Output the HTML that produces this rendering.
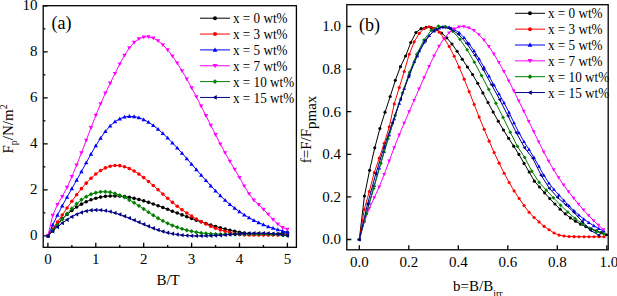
<!DOCTYPE html>
<html><head><meta charset="utf-8"><style>html,body{margin:0;padding:0;background:#fff;width:617px;height:296px;overflow:hidden}svg{display:block}</style></head>
<body><svg width="617" height="296" viewBox="0 0 617 296">
<rect width="617" height="296" fill="#fff"/>
<rect x="43.2" y="5.7" width="253.2" height="241.60000000000002" fill="none" stroke="#000" stroke-width="1.3"/>
<rect x="346.8" y="4.7" width="261.40000000000003" height="245.10000000000002" fill="none" stroke="#000" stroke-width="1.3"/>
<text x="47.90" y="264" text-anchor="middle" font-size="15" font-family="Liberation Serif" fill="#000">0</text>
<text x="95.80" y="264" text-anchor="middle" font-size="15" font-family="Liberation Serif" fill="#000">1</text>
<text x="143.70" y="264" text-anchor="middle" font-size="15" font-family="Liberation Serif" fill="#000">2</text>
<text x="191.60" y="264" text-anchor="middle" font-size="15" font-family="Liberation Serif" fill="#000">3</text>
<text x="239.50" y="264" text-anchor="middle" font-size="15" font-family="Liberation Serif" fill="#000">4</text>
<text x="287.40" y="264" text-anchor="middle" font-size="15" font-family="Liberation Serif" fill="#000">5</text>
<text x="37.6" y="239.90" text-anchor="end" font-size="15" font-family="Liberation Serif" fill="#000">0</text>
<text x="37.6" y="193.90" text-anchor="end" font-size="15" font-family="Liberation Serif" fill="#000">2</text>
<text x="37.6" y="147.90" text-anchor="end" font-size="15" font-family="Liberation Serif" fill="#000">4</text>
<text x="37.6" y="101.90" text-anchor="end" font-size="15" font-family="Liberation Serif" fill="#000">6</text>
<text x="37.6" y="55.90" text-anchor="end" font-size="15" font-family="Liberation Serif" fill="#000">8</text>
<text x="37.6" y="9.90" text-anchor="end" font-size="15" font-family="Liberation Serif" fill="#000">10</text>
<text x="359.30" y="266.7" text-anchor="middle" font-size="15" font-family="Liberation Serif" fill="#000">0.0</text>
<text x="341" y="244.30" text-anchor="end" font-size="15" font-family="Liberation Serif" fill="#000">0.0</text>
<text x="408.80" y="266.7" text-anchor="middle" font-size="15" font-family="Liberation Serif" fill="#000">0.2</text>
<text x="341" y="201.70" text-anchor="end" font-size="15" font-family="Liberation Serif" fill="#000">0.2</text>
<text x="458.30" y="266.7" text-anchor="middle" font-size="15" font-family="Liberation Serif" fill="#000">0.4</text>
<text x="341" y="159.10" text-anchor="end" font-size="15" font-family="Liberation Serif" fill="#000">0.4</text>
<text x="507.80" y="266.7" text-anchor="middle" font-size="15" font-family="Liberation Serif" fill="#000">0.6</text>
<text x="341" y="116.50" text-anchor="end" font-size="15" font-family="Liberation Serif" fill="#000">0.6</text>
<text x="557.30" y="266.7" text-anchor="middle" font-size="15" font-family="Liberation Serif" fill="#000">0.8</text>
<text x="341" y="73.90" text-anchor="end" font-size="15" font-family="Liberation Serif" fill="#000">0.8</text>
<text x="608.80" y="266.7" text-anchor="middle" font-size="15" font-family="Liberation Serif" fill="#000">1.0</text>
<text x="341" y="31.30" text-anchor="end" font-size="15" font-family="Liberation Serif" fill="#000">1.0</text>
<path d="M47.90,247.3v-4.5 M95.80,247.3v-4.5 M143.70,247.3v-4.5 M191.60,247.3v-4.5 M239.50,247.3v-4.5 M287.40,247.3v-4.5 M71.85,247.3v-2.2 M119.75,247.3v-2.2 M167.65,247.3v-2.2 M215.55,247.3v-2.2 M263.45,247.3v-2.2 M43.2,235.90h4.5 M43.2,189.90h4.5 M43.2,143.90h4.5 M43.2,97.90h4.5 M43.2,51.90h4.5 M43.2,5.90h4.5 M43.2,212.90h2.2 M43.2,166.90h2.2 M43.2,120.90h2.2 M43.2,74.90h2.2 M43.2,28.90h2.2 M359.30,249.8v-4.5 M346.8,239.50h4.5 M408.80,249.8v-4.5 M346.8,196.90h4.5 M458.30,249.8v-4.5 M346.8,154.30h4.5 M507.80,249.8v-4.5 M346.8,111.70h4.5 M557.30,249.8v-4.5 M346.8,69.10h4.5 M606.80,249.8v-4.5 M346.8,26.50h4.5" stroke="#000" stroke-width="1.3" fill="none"/>
<text x="51.5" y="28.6" font-size="18" font-family="Liberation Serif" fill="#000">(a)</text>
<text x="359" y="31.1" font-size="18" font-family="Liberation Serif" fill="#000">(b)</text>
<text x="156.4" y="285" font-size="15" font-family="Liberation Serif" fill="#000">B/T</text>
<text x="453" y="291.4" font-size="15" font-family="Liberation Serif" fill="#000">b=B/B<tspan font-size="10" dy="6">irr</tspan></text>
<text transform="translate(13,153.5) rotate(-90)" font-size="15" font-family="Liberation Serif" fill="#000">F<tspan font-size="10" dy="4">p</tspan><tspan dy="-4">/N/m</tspan><tspan font-size="10" dy="-6">2</tspan></text>
<text transform="translate(311.2,163.3) rotate(-90)" font-size="15" font-family="Liberation Serif" fill="#000">f=F/F<tspan font-size="15" dy="5">pmax</tspan></text>
<path d="M200,18.20h30" stroke="#000000" stroke-width="1"/>
<circle cx="215.00" cy="18.20" r="1.98" fill="#000000"/>
<text transform="matrix(0.94,0,0,1,13.980,0)" x="233" y="23.30" font-size="14" font-family="Liberation Serif" fill="#000">x = 0 wt%</text>
<path d="M200,34.05h30" stroke="#ff0000" stroke-width="1"/>
<circle cx="215.00" cy="34.05" r="1.98" fill="#ff0000"/>
<text transform="matrix(0.94,0,0,1,13.980,0)" x="233" y="39.15" font-size="14" font-family="Liberation Serif" fill="#000">x = 3 wt%</text>
<path d="M200,49.90h30" stroke="#0000ff" stroke-width="1"/>
<polygon points="215.00,47.48 212.58,51.66 217.42,51.66" fill="#0000ff"/>
<text transform="matrix(0.94,0,0,1,13.980,0)" x="233" y="55.00" font-size="14" font-family="Liberation Serif" fill="#000">x = 5 wt%</text>
<path d="M200,65.75h30" stroke="#ff00ff" stroke-width="1"/>
<polygon points="215.00,68.17 212.58,63.99 217.42,63.99" fill="#ff00ff"/>
<text transform="matrix(0.94,0,0,1,13.980,0)" x="233" y="70.85" font-size="14" font-family="Liberation Serif" fill="#000">x = 7 wt%</text>
<path d="M200,81.60h30" stroke="#008000" stroke-width="1"/>
<polygon points="215.00,79.18 217.42,81.60 215.00,84.02 212.58,81.60" fill="#008000"/>
<text transform="matrix(0.94,0,0,1,13.980,0)" x="233" y="86.70" font-size="14" font-family="Liberation Serif" fill="#000">x = 10 wt%</text>
<path d="M200,97.45h30" stroke="#000080" stroke-width="1"/>
<polygon points="212.58,97.45 216.76,95.03 216.76,99.87" fill="#000080"/>
<text transform="matrix(0.94,0,0,1,13.980,0)" x="233" y="102.55" font-size="14" font-family="Liberation Serif" fill="#000">x = 15 wt%</text>
<path d="M515,13.30h30" stroke="#000000" stroke-width="1"/>
<circle cx="530.00" cy="13.30" r="1.98" fill="#000000"/>
<text transform="matrix(0.94,0,0,1,32.880,0)" x="548" y="18.40" font-size="14" font-family="Liberation Serif" fill="#000">x = 0 wt%</text>
<path d="M515,29.15h30" stroke="#ff0000" stroke-width="1"/>
<circle cx="530.00" cy="29.15" r="1.98" fill="#ff0000"/>
<text transform="matrix(0.94,0,0,1,32.880,0)" x="548" y="34.25" font-size="14" font-family="Liberation Serif" fill="#000">x = 3 wt%</text>
<path d="M515,45.00h30" stroke="#0000ff" stroke-width="1"/>
<polygon points="530.00,42.58 527.58,46.76 532.42,46.76" fill="#0000ff"/>
<text transform="matrix(0.94,0,0,1,32.880,0)" x="548" y="50.10" font-size="14" font-family="Liberation Serif" fill="#000">x = 5 wt%</text>
<path d="M515,60.85h30" stroke="#ff00ff" stroke-width="1"/>
<polygon points="530.00,63.27 527.58,59.09 532.42,59.09" fill="#ff00ff"/>
<text transform="matrix(0.94,0,0,1,32.880,0)" x="548" y="65.95" font-size="14" font-family="Liberation Serif" fill="#000">x = 7 wt%</text>
<path d="M515,76.70h30" stroke="#008000" stroke-width="1"/>
<polygon points="530.00,74.28 532.42,76.70 530.00,79.12 527.58,76.70" fill="#008000"/>
<text transform="matrix(0.94,0,0,1,32.880,0)" x="548" y="81.80" font-size="14" font-family="Liberation Serif" fill="#000">x = 10 wt%</text>
<path d="M515,92.55h30" stroke="#000080" stroke-width="1"/>
<polygon points="527.58,92.55 531.76,90.13 531.76,94.97" fill="#000080"/>
<text transform="matrix(0.94,0,0,1,32.880,0)" x="548" y="97.65" font-size="14" font-family="Liberation Serif" fill="#000">x = 15 wt%</text>
<path d="M47.90,235.90 L52.69,229.60 L57.48,223.93 L62.27,218.87 L67.06,214.38 L71.85,210.46 L76.64,207.06 L81.43,204.16 L86.22,201.75 L91.01,199.78 L95.80,198.25 L100.59,197.11 L105.38,196.36 L110.17,195.96 L114.96,195.88 L119.75,196.10 L124.54,196.60 L129.33,197.35 L134.12,198.33 L138.91,199.50 L143.70,200.85 L148.49,202.35 L153.28,203.97 L158.07,205.69 L162.86,207.48 L167.65,209.32 L172.44,211.19 L177.23,213.05 L182.02,214.89 L186.81,216.70 L191.60,218.47 L196.39,220.20 L201.18,221.87 L205.97,223.48 L210.76,225.01 L215.55,226.47 L220.34,227.83 L225.13,229.09 L229.92,230.25 L234.71,231.29 L239.50,232.21 L244.29,232.99 L249.08,233.63 L253.87,234.12 L258.66,234.45 L263.45,234.61 L268.24,234.59 L273.03,234.38 L277.82,233.99 L282.61,233.38 L287.40,232.57" stroke="#000000" stroke-width="1" fill="none"/>
<circle cx="47.90" cy="235.90" r="1.80" fill="#000000"/><circle cx="52.69" cy="229.60" r="1.80" fill="#000000"/><circle cx="57.48" cy="223.93" r="1.80" fill="#000000"/><circle cx="62.27" cy="218.87" r="1.80" fill="#000000"/><circle cx="67.06" cy="214.38" r="1.80" fill="#000000"/><circle cx="71.85" cy="210.46" r="1.80" fill="#000000"/><circle cx="76.64" cy="207.06" r="1.80" fill="#000000"/><circle cx="81.43" cy="204.16" r="1.80" fill="#000000"/><circle cx="86.22" cy="201.75" r="1.80" fill="#000000"/><circle cx="91.01" cy="199.78" r="1.80" fill="#000000"/><circle cx="95.80" cy="198.25" r="1.80" fill="#000000"/><circle cx="100.59" cy="197.11" r="1.80" fill="#000000"/><circle cx="105.38" cy="196.36" r="1.80" fill="#000000"/><circle cx="110.17" cy="195.96" r="1.80" fill="#000000"/><circle cx="114.96" cy="195.88" r="1.80" fill="#000000"/><circle cx="119.75" cy="196.10" r="1.80" fill="#000000"/><circle cx="124.54" cy="196.60" r="1.80" fill="#000000"/><circle cx="129.33" cy="197.35" r="1.80" fill="#000000"/><circle cx="134.12" cy="198.33" r="1.80" fill="#000000"/><circle cx="138.91" cy="199.50" r="1.80" fill="#000000"/><circle cx="143.70" cy="200.85" r="1.80" fill="#000000"/><circle cx="148.49" cy="202.35" r="1.80" fill="#000000"/><circle cx="153.28" cy="203.97" r="1.80" fill="#000000"/><circle cx="158.07" cy="205.69" r="1.80" fill="#000000"/><circle cx="162.86" cy="207.48" r="1.80" fill="#000000"/><circle cx="167.65" cy="209.32" r="1.80" fill="#000000"/><circle cx="172.44" cy="211.19" r="1.80" fill="#000000"/><circle cx="177.23" cy="213.05" r="1.80" fill="#000000"/><circle cx="182.02" cy="214.89" r="1.80" fill="#000000"/><circle cx="186.81" cy="216.70" r="1.80" fill="#000000"/><circle cx="191.60" cy="218.47" r="1.80" fill="#000000"/><circle cx="196.39" cy="220.20" r="1.80" fill="#000000"/><circle cx="201.18" cy="221.87" r="1.80" fill="#000000"/><circle cx="205.97" cy="223.48" r="1.80" fill="#000000"/><circle cx="210.76" cy="225.01" r="1.80" fill="#000000"/><circle cx="215.55" cy="226.47" r="1.80" fill="#000000"/><circle cx="220.34" cy="227.83" r="1.80" fill="#000000"/><circle cx="225.13" cy="229.09" r="1.80" fill="#000000"/><circle cx="229.92" cy="230.25" r="1.80" fill="#000000"/><circle cx="234.71" cy="231.29" r="1.80" fill="#000000"/><circle cx="239.50" cy="232.21" r="1.80" fill="#000000"/><circle cx="244.29" cy="232.99" r="1.80" fill="#000000"/><circle cx="249.08" cy="233.63" r="1.80" fill="#000000"/><circle cx="253.87" cy="234.12" r="1.80" fill="#000000"/><circle cx="258.66" cy="234.45" r="1.80" fill="#000000"/><circle cx="263.45" cy="234.61" r="1.80" fill="#000000"/><circle cx="268.24" cy="234.59" r="1.80" fill="#000000"/><circle cx="273.03" cy="234.38" r="1.80" fill="#000000"/><circle cx="277.82" cy="233.99" r="1.80" fill="#000000"/><circle cx="282.61" cy="233.38" r="1.80" fill="#000000"/><circle cx="287.40" cy="232.57" r="1.80" fill="#000000"/>
<path d="M47.90,235.90 L52.69,229.10 L57.48,222.09 L62.27,215.03 L67.06,208.02 L71.85,201.21 L76.64,194.71 L81.43,188.65 L86.22,183.13 L91.01,178.22 L95.80,174.00 L100.59,170.54 L105.38,167.91 L110.17,166.19 L114.96,165.45 L119.75,165.66 L124.54,166.74 L129.33,168.58 L134.12,171.07 L138.91,174.12 L143.70,177.62 L148.49,181.47 L153.28,185.56 L158.07,189.80 L162.86,194.09 L167.65,198.31 L172.44,202.36 L177.23,206.18 L182.02,209.74 L186.81,213.06 L191.60,216.14 L196.39,218.98 L201.18,221.58 L205.97,223.96 L210.76,226.35 L215.55,228.31 L220.34,229.92 L225.13,231.30 L229.92,232.45 L234.71,233.60 L239.50,234.52 L244.29,234.87 L249.08,234.95 L253.87,234.98 L258.66,234.98 L263.45,234.98 L268.24,234.98 L273.03,234.98 L277.82,234.98 L282.61,234.98 L287.40,234.98" stroke="#ff0000" stroke-width="1" fill="none"/>
<circle cx="47.90" cy="235.90" r="1.80" fill="#ff0000"/><circle cx="52.69" cy="229.10" r="1.80" fill="#ff0000"/><circle cx="57.48" cy="222.09" r="1.80" fill="#ff0000"/><circle cx="62.27" cy="215.03" r="1.80" fill="#ff0000"/><circle cx="67.06" cy="208.02" r="1.80" fill="#ff0000"/><circle cx="71.85" cy="201.21" r="1.80" fill="#ff0000"/><circle cx="76.64" cy="194.71" r="1.80" fill="#ff0000"/><circle cx="81.43" cy="188.65" r="1.80" fill="#ff0000"/><circle cx="86.22" cy="183.13" r="1.80" fill="#ff0000"/><circle cx="91.01" cy="178.22" r="1.80" fill="#ff0000"/><circle cx="95.80" cy="174.00" r="1.80" fill="#ff0000"/><circle cx="100.59" cy="170.54" r="1.80" fill="#ff0000"/><circle cx="105.38" cy="167.91" r="1.80" fill="#ff0000"/><circle cx="110.17" cy="166.19" r="1.80" fill="#ff0000"/><circle cx="114.96" cy="165.45" r="1.80" fill="#ff0000"/><circle cx="119.75" cy="165.66" r="1.80" fill="#ff0000"/><circle cx="124.54" cy="166.74" r="1.80" fill="#ff0000"/><circle cx="129.33" cy="168.58" r="1.80" fill="#ff0000"/><circle cx="134.12" cy="171.07" r="1.80" fill="#ff0000"/><circle cx="138.91" cy="174.12" r="1.80" fill="#ff0000"/><circle cx="143.70" cy="177.62" r="1.80" fill="#ff0000"/><circle cx="148.49" cy="181.47" r="1.80" fill="#ff0000"/><circle cx="153.28" cy="185.56" r="1.80" fill="#ff0000"/><circle cx="158.07" cy="189.80" r="1.80" fill="#ff0000"/><circle cx="162.86" cy="194.09" r="1.80" fill="#ff0000"/><circle cx="167.65" cy="198.31" r="1.80" fill="#ff0000"/><circle cx="172.44" cy="202.36" r="1.80" fill="#ff0000"/><circle cx="177.23" cy="206.18" r="1.80" fill="#ff0000"/><circle cx="182.02" cy="209.74" r="1.80" fill="#ff0000"/><circle cx="186.81" cy="213.06" r="1.80" fill="#ff0000"/><circle cx="191.60" cy="216.14" r="1.80" fill="#ff0000"/><circle cx="196.39" cy="218.98" r="1.80" fill="#ff0000"/><circle cx="201.18" cy="221.58" r="1.80" fill="#ff0000"/><circle cx="205.97" cy="223.96" r="1.80" fill="#ff0000"/><circle cx="210.76" cy="226.35" r="1.80" fill="#ff0000"/><circle cx="215.55" cy="228.31" r="1.80" fill="#ff0000"/><circle cx="220.34" cy="229.92" r="1.80" fill="#ff0000"/><circle cx="225.13" cy="231.30" r="1.80" fill="#ff0000"/><circle cx="229.92" cy="232.45" r="1.80" fill="#ff0000"/><circle cx="234.71" cy="233.60" r="1.80" fill="#ff0000"/><circle cx="239.50" cy="234.52" r="1.80" fill="#ff0000"/><circle cx="244.29" cy="234.87" r="1.80" fill="#ff0000"/><circle cx="249.08" cy="234.95" r="1.80" fill="#ff0000"/><circle cx="253.87" cy="234.98" r="1.80" fill="#ff0000"/><circle cx="258.66" cy="234.98" r="1.80" fill="#ff0000"/><circle cx="263.45" cy="234.98" r="1.80" fill="#ff0000"/><circle cx="268.24" cy="234.98" r="1.80" fill="#ff0000"/><circle cx="273.03" cy="234.98" r="1.80" fill="#ff0000"/><circle cx="277.82" cy="234.98" r="1.80" fill="#ff0000"/><circle cx="282.61" cy="234.98" r="1.80" fill="#ff0000"/><circle cx="287.40" cy="234.98" r="1.80" fill="#ff0000"/>
<path d="M47.90,235.90 L52.69,224.98 L57.48,215.03 L62.27,205.82 L67.06,197.10 L71.85,188.64 L76.64,180.21 L81.43,171.57 L86.22,162.77 L91.01,154.07 L95.80,145.74 L100.59,138.08 L105.38,131.37 L110.17,125.89 L114.96,121.72 L119.75,118.79 L124.54,117.01 L129.33,116.29 L134.12,116.54 L138.91,117.68 L143.70,119.60 L148.49,122.23 L153.28,125.47 L158.07,129.24 L162.86,133.45 L167.65,138.00 L172.44,142.85 L177.23,147.94 L182.02,153.22 L186.81,158.62 L191.60,164.11 L196.39,169.62 L201.18,175.11 L205.97,180.51 L210.76,185.78 L215.55,190.86 L220.34,195.69 L225.13,200.24 L229.92,204.43 L234.71,208.26 L239.50,211.75 L244.29,214.91 L249.08,217.77 L253.87,220.35 L258.66,222.66 L263.45,224.74 L268.24,226.59 L273.03,228.24 L277.82,229.72 L282.61,231.03 L287.40,232.21" stroke="#0000ff" stroke-width="1" fill="none"/>
<polygon points="47.90,233.70 45.70,237.50 50.10,237.50" fill="#0000ff"/><polygon points="52.69,222.78 50.49,226.58 54.89,226.58" fill="#0000ff"/><polygon points="57.48,212.83 55.28,216.63 59.68,216.63" fill="#0000ff"/><polygon points="62.27,203.62 60.07,207.42 64.47,207.42" fill="#0000ff"/><polygon points="67.06,194.90 64.86,198.70 69.26,198.70" fill="#0000ff"/><polygon points="71.85,186.44 69.65,190.24 74.05,190.24" fill="#0000ff"/><polygon points="76.64,178.01 74.44,181.81 78.84,181.81" fill="#0000ff"/><polygon points="81.43,169.37 79.23,173.17 83.63,173.17" fill="#0000ff"/><polygon points="86.22,160.57 84.02,164.37 88.42,164.37" fill="#0000ff"/><polygon points="91.01,151.87 88.81,155.67 93.21,155.67" fill="#0000ff"/><polygon points="95.80,143.54 93.60,147.34 98.00,147.34" fill="#0000ff"/><polygon points="100.59,135.88 98.39,139.68 102.79,139.68" fill="#0000ff"/><polygon points="105.38,129.17 103.18,132.97 107.58,132.97" fill="#0000ff"/><polygon points="110.17,123.69 107.97,127.49 112.37,127.49" fill="#0000ff"/><polygon points="114.96,119.52 112.76,123.32 117.16,123.32" fill="#0000ff"/><polygon points="119.75,116.59 117.55,120.39 121.95,120.39" fill="#0000ff"/><polygon points="124.54,114.81 122.34,118.61 126.74,118.61" fill="#0000ff"/><polygon points="129.33,114.09 127.13,117.89 131.53,117.89" fill="#0000ff"/><polygon points="134.12,114.34 131.92,118.14 136.32,118.14" fill="#0000ff"/><polygon points="138.91,115.48 136.71,119.28 141.11,119.28" fill="#0000ff"/><polygon points="143.70,117.40 141.50,121.20 145.90,121.20" fill="#0000ff"/><polygon points="148.49,120.03 146.29,123.83 150.69,123.83" fill="#0000ff"/><polygon points="153.28,123.27 151.08,127.07 155.48,127.07" fill="#0000ff"/><polygon points="158.07,127.04 155.87,130.84 160.27,130.84" fill="#0000ff"/><polygon points="162.86,131.25 160.66,135.05 165.06,135.05" fill="#0000ff"/><polygon points="167.65,135.80 165.45,139.60 169.85,139.60" fill="#0000ff"/><polygon points="172.44,140.65 170.24,144.45 174.64,144.45" fill="#0000ff"/><polygon points="177.23,145.74 175.03,149.54 179.43,149.54" fill="#0000ff"/><polygon points="182.02,151.02 179.82,154.82 184.22,154.82" fill="#0000ff"/><polygon points="186.81,156.42 184.61,160.22 189.01,160.22" fill="#0000ff"/><polygon points="191.60,161.91 189.40,165.71 193.80,165.71" fill="#0000ff"/><polygon points="196.39,167.42 194.19,171.22 198.59,171.22" fill="#0000ff"/><polygon points="201.18,172.91 198.98,176.71 203.38,176.71" fill="#0000ff"/><polygon points="205.97,178.31 203.77,182.11 208.17,182.11" fill="#0000ff"/><polygon points="210.76,183.58 208.56,187.38 212.96,187.38" fill="#0000ff"/><polygon points="215.55,188.66 213.35,192.46 217.75,192.46" fill="#0000ff"/><polygon points="220.34,193.49 218.14,197.29 222.54,197.29" fill="#0000ff"/><polygon points="225.13,198.04 222.93,201.84 227.33,201.84" fill="#0000ff"/><polygon points="229.92,202.23 227.72,206.03 232.12,206.03" fill="#0000ff"/><polygon points="234.71,206.06 232.51,209.86 236.91,209.86" fill="#0000ff"/><polygon points="239.50,209.55 237.30,213.35 241.70,213.35" fill="#0000ff"/><polygon points="244.29,212.71 242.09,216.51 246.49,216.51" fill="#0000ff"/><polygon points="249.08,215.57 246.88,219.37 251.28,219.37" fill="#0000ff"/><polygon points="253.87,218.15 251.67,221.95 256.07,221.95" fill="#0000ff"/><polygon points="258.66,220.46 256.46,224.26 260.86,224.26" fill="#0000ff"/><polygon points="263.45,222.54 261.25,226.34 265.65,226.34" fill="#0000ff"/><polygon points="268.24,224.39 266.04,228.19 270.44,228.19" fill="#0000ff"/><polygon points="273.03,226.04 270.83,229.84 275.23,229.84" fill="#0000ff"/><polygon points="277.82,227.52 275.62,231.32 280.02,231.32" fill="#0000ff"/><polygon points="282.61,228.83 280.41,232.63 284.81,232.63" fill="#0000ff"/><polygon points="287.40,230.01 285.20,233.81 289.60,233.81" fill="#0000ff"/>
<path d="M47.90,235.90 L52.69,215.46 L57.48,204.52 L62.27,196.51 L67.06,187.26 L71.85,176.70 L76.64,165.13 L81.43,152.88 L86.22,140.29 L91.01,127.70 L95.80,115.45 L100.59,103.88 L105.38,93.21 L110.17,83.22 L114.96,73.56 L119.75,64.06 L124.54,55.26 L129.33,47.90 L134.12,42.44 L138.91,38.84 L143.70,37.00 L148.49,36.78 L153.28,38.09 L158.07,40.79 L162.86,44.79 L167.65,49.94 L172.44,56.10 L177.23,63.12 L182.02,70.82 L186.81,79.07 L191.60,87.78 L196.39,96.85 L201.18,106.20 L205.97,115.71 L210.76,125.26 L215.55,134.72 L220.34,143.98 L225.13,152.90 L229.92,161.38 L234.71,169.32 L239.50,177.53 L244.29,186.13 L249.08,193.76 L253.87,200.22 L258.66,204.56 L263.45,209.25 L268.24,214.41 L273.03,219.53 L277.82,224.09 L282.61,227.58 L287.40,229.46" stroke="#ff00ff" stroke-width="1" fill="none"/>
<polygon points="47.90,238.10 45.70,234.30 50.10,234.30" fill="#ff00ff"/><polygon points="52.69,217.66 50.49,213.86 54.89,213.86" fill="#ff00ff"/><polygon points="57.48,206.72 55.28,202.92 59.68,202.92" fill="#ff00ff"/><polygon points="62.27,198.71 60.07,194.91 64.47,194.91" fill="#ff00ff"/><polygon points="67.06,189.46 64.86,185.66 69.26,185.66" fill="#ff00ff"/><polygon points="71.85,178.90 69.65,175.10 74.05,175.10" fill="#ff00ff"/><polygon points="76.64,167.33 74.44,163.53 78.84,163.53" fill="#ff00ff"/><polygon points="81.43,155.08 79.23,151.28 83.63,151.28" fill="#ff00ff"/><polygon points="86.22,142.49 84.02,138.69 88.42,138.69" fill="#ff00ff"/><polygon points="91.01,129.90 88.81,126.10 93.21,126.10" fill="#ff00ff"/><polygon points="95.80,117.65 93.60,113.85 98.00,113.85" fill="#ff00ff"/><polygon points="100.59,106.08 98.39,102.28 102.79,102.28" fill="#ff00ff"/><polygon points="105.38,95.41 103.18,91.61 107.58,91.61" fill="#ff00ff"/><polygon points="110.17,85.42 107.97,81.62 112.37,81.62" fill="#ff00ff"/><polygon points="114.96,75.76 112.76,71.96 117.16,71.96" fill="#ff00ff"/><polygon points="119.75,66.26 117.55,62.46 121.95,62.46" fill="#ff00ff"/><polygon points="124.54,57.46 122.34,53.66 126.74,53.66" fill="#ff00ff"/><polygon points="129.33,50.10 127.13,46.30 131.53,46.30" fill="#ff00ff"/><polygon points="134.12,44.64 131.92,40.84 136.32,40.84" fill="#ff00ff"/><polygon points="138.91,41.04 136.71,37.24 141.11,37.24" fill="#ff00ff"/><polygon points="143.70,39.20 141.50,35.40 145.90,35.40" fill="#ff00ff"/><polygon points="148.49,38.98 146.29,35.18 150.69,35.18" fill="#ff00ff"/><polygon points="153.28,40.29 151.08,36.49 155.48,36.49" fill="#ff00ff"/><polygon points="158.07,42.99 155.87,39.19 160.27,39.19" fill="#ff00ff"/><polygon points="162.86,46.99 160.66,43.19 165.06,43.19" fill="#ff00ff"/><polygon points="167.65,52.14 165.45,48.34 169.85,48.34" fill="#ff00ff"/><polygon points="172.44,58.30 170.24,54.50 174.64,54.50" fill="#ff00ff"/><polygon points="177.23,65.32 175.03,61.52 179.43,61.52" fill="#ff00ff"/><polygon points="182.02,73.02 179.82,69.22 184.22,69.22" fill="#ff00ff"/><polygon points="186.81,81.27 184.61,77.47 189.01,77.47" fill="#ff00ff"/><polygon points="191.60,89.98 189.40,86.18 193.80,86.18" fill="#ff00ff"/><polygon points="196.39,99.05 194.19,95.25 198.59,95.25" fill="#ff00ff"/><polygon points="201.18,108.40 198.98,104.60 203.38,104.60" fill="#ff00ff"/><polygon points="205.97,117.91 203.77,114.11 208.17,114.11" fill="#ff00ff"/><polygon points="210.76,127.46 208.56,123.66 212.96,123.66" fill="#ff00ff"/><polygon points="215.55,136.92 213.35,133.12 217.75,133.12" fill="#ff00ff"/><polygon points="220.34,146.18 218.14,142.38 222.54,142.38" fill="#ff00ff"/><polygon points="225.13,155.10 222.93,151.30 227.33,151.30" fill="#ff00ff"/><polygon points="229.92,163.58 227.72,159.78 232.12,159.78" fill="#ff00ff"/><polygon points="234.71,171.52 232.51,167.72 236.91,167.72" fill="#ff00ff"/><polygon points="239.50,179.73 237.30,175.93 241.70,175.93" fill="#ff00ff"/><polygon points="244.29,188.33 242.09,184.53 246.49,184.53" fill="#ff00ff"/><polygon points="249.08,195.96 246.88,192.16 251.28,192.16" fill="#ff00ff"/><polygon points="253.87,202.42 251.67,198.62 256.07,198.62" fill="#ff00ff"/><polygon points="258.66,206.76 256.46,202.96 260.86,202.96" fill="#ff00ff"/><polygon points="263.45,211.45 261.25,207.65 265.65,207.65" fill="#ff00ff"/><polygon points="268.24,216.61 266.04,212.81 270.44,212.81" fill="#ff00ff"/><polygon points="273.03,221.73 270.83,217.93 275.23,217.93" fill="#ff00ff"/><polygon points="277.82,226.29 275.62,222.49 280.02,222.49" fill="#ff00ff"/><polygon points="282.61,229.78 280.41,225.98 284.81,225.98" fill="#ff00ff"/><polygon points="287.40,231.66 285.20,227.86 289.60,227.86" fill="#ff00ff"/>
<path d="M47.90,235.90 L52.69,230.68 L57.48,225.09 L62.27,219.36 L67.06,213.73 L71.85,208.45 L76.64,203.75 L81.43,199.82 L86.22,196.68 L91.01,194.32 L95.80,192.72 L100.59,191.86 L105.38,191.74 L110.17,192.30 L114.96,193.50 L119.75,195.23 L124.54,197.42 L129.33,199.97 L134.12,202.81 L138.91,205.84 L143.70,208.98 L148.49,212.14 L153.28,215.24 L158.07,218.20 L162.86,220.92 L167.65,223.34 L172.44,225.45 L177.23,227.29 L182.02,228.86 L186.81,230.19 L191.60,231.30 L196.39,232.20 L201.18,232.91 L205.97,233.45 L210.76,233.85 L215.55,234.12 L220.34,234.28 L225.13,234.35 L229.92,234.34 L234.71,234.28 L239.50,234.19 L244.29,234.09 L249.08,233.98 L253.87,233.91 L258.66,233.87 L263.45,233.89 L268.24,234.00 L273.03,234.20 L277.82,234.53 L282.61,234.99 L287.40,235.61" stroke="#008000" stroke-width="1" fill="none"/>
<polygon points="47.90,233.70 50.10,235.90 47.90,238.10 45.70,235.90" fill="#008000"/><polygon points="52.69,228.48 54.89,230.68 52.69,232.88 50.49,230.68" fill="#008000"/><polygon points="57.48,222.89 59.68,225.09 57.48,227.29 55.28,225.09" fill="#008000"/><polygon points="62.27,217.16 64.47,219.36 62.27,221.56 60.07,219.36" fill="#008000"/><polygon points="67.06,211.53 69.26,213.73 67.06,215.93 64.86,213.73" fill="#008000"/><polygon points="71.85,206.25 74.05,208.45 71.85,210.65 69.65,208.45" fill="#008000"/><polygon points="76.64,201.55 78.84,203.75 76.64,205.95 74.44,203.75" fill="#008000"/><polygon points="81.43,197.62 83.63,199.82 81.43,202.02 79.23,199.82" fill="#008000"/><polygon points="86.22,194.48 88.42,196.68 86.22,198.88 84.02,196.68" fill="#008000"/><polygon points="91.01,192.12 93.21,194.32 91.01,196.52 88.81,194.32" fill="#008000"/><polygon points="95.80,190.52 98.00,192.72 95.80,194.92 93.60,192.72" fill="#008000"/><polygon points="100.59,189.66 102.79,191.86 100.59,194.06 98.39,191.86" fill="#008000"/><polygon points="105.38,189.54 107.58,191.74 105.38,193.94 103.18,191.74" fill="#008000"/><polygon points="110.17,190.10 112.37,192.30 110.17,194.50 107.97,192.30" fill="#008000"/><polygon points="114.96,191.30 117.16,193.50 114.96,195.70 112.76,193.50" fill="#008000"/><polygon points="119.75,193.03 121.95,195.23 119.75,197.43 117.55,195.23" fill="#008000"/><polygon points="124.54,195.22 126.74,197.42 124.54,199.62 122.34,197.42" fill="#008000"/><polygon points="129.33,197.77 131.53,199.97 129.33,202.17 127.13,199.97" fill="#008000"/><polygon points="134.12,200.61 136.32,202.81 134.12,205.01 131.92,202.81" fill="#008000"/><polygon points="138.91,203.64 141.11,205.84 138.91,208.04 136.71,205.84" fill="#008000"/><polygon points="143.70,206.78 145.90,208.98 143.70,211.18 141.50,208.98" fill="#008000"/><polygon points="148.49,209.94 150.69,212.14 148.49,214.34 146.29,212.14" fill="#008000"/><polygon points="153.28,213.04 155.48,215.24 153.28,217.44 151.08,215.24" fill="#008000"/><polygon points="158.07,216.00 160.27,218.20 158.07,220.40 155.87,218.20" fill="#008000"/><polygon points="162.86,218.72 165.06,220.92 162.86,223.12 160.66,220.92" fill="#008000"/><polygon points="167.65,221.14 169.85,223.34 167.65,225.54 165.45,223.34" fill="#008000"/><polygon points="172.44,223.25 174.64,225.45 172.44,227.65 170.24,225.45" fill="#008000"/><polygon points="177.23,225.09 179.43,227.29 177.23,229.49 175.03,227.29" fill="#008000"/><polygon points="182.02,226.66 184.22,228.86 182.02,231.06 179.82,228.86" fill="#008000"/><polygon points="186.81,227.99 189.01,230.19 186.81,232.39 184.61,230.19" fill="#008000"/><polygon points="191.60,229.10 193.80,231.30 191.60,233.50 189.40,231.30" fill="#008000"/><polygon points="196.39,230.00 198.59,232.20 196.39,234.40 194.19,232.20" fill="#008000"/><polygon points="201.18,230.71 203.38,232.91 201.18,235.11 198.98,232.91" fill="#008000"/><polygon points="205.97,231.25 208.17,233.45 205.97,235.65 203.77,233.45" fill="#008000"/><polygon points="210.76,231.65 212.96,233.85 210.76,236.05 208.56,233.85" fill="#008000"/><polygon points="215.55,231.92 217.75,234.12 215.55,236.32 213.35,234.12" fill="#008000"/><polygon points="220.34,232.08 222.54,234.28 220.34,236.48 218.14,234.28" fill="#008000"/><polygon points="225.13,232.15 227.33,234.35 225.13,236.55 222.93,234.35" fill="#008000"/><polygon points="229.92,232.14 232.12,234.34 229.92,236.54 227.72,234.34" fill="#008000"/><polygon points="234.71,232.08 236.91,234.28 234.71,236.48 232.51,234.28" fill="#008000"/><polygon points="239.50,231.99 241.70,234.19 239.50,236.39 237.30,234.19" fill="#008000"/><polygon points="244.29,231.89 246.49,234.09 244.29,236.29 242.09,234.09" fill="#008000"/><polygon points="249.08,231.78 251.28,233.98 249.08,236.18 246.88,233.98" fill="#008000"/><polygon points="253.87,231.71 256.07,233.91 253.87,236.11 251.67,233.91" fill="#008000"/><polygon points="258.66,231.67 260.86,233.87 258.66,236.07 256.46,233.87" fill="#008000"/><polygon points="263.45,231.69 265.65,233.89 263.45,236.09 261.25,233.89" fill="#008000"/><polygon points="268.24,231.80 270.44,234.00 268.24,236.20 266.04,234.00" fill="#008000"/><polygon points="273.03,232.00 275.23,234.20 273.03,236.40 270.83,234.20" fill="#008000"/><polygon points="277.82,232.33 280.02,234.53 277.82,236.73 275.62,234.53" fill="#008000"/><polygon points="282.61,232.79 284.81,234.99 282.61,237.19 280.41,234.99" fill="#008000"/><polygon points="287.40,233.41 289.60,235.61 287.40,237.81 285.20,235.61" fill="#008000"/>
<path d="M47.90,235.90 L52.69,231.23 L57.48,226.95 L62.27,223.10 L67.06,219.69 L71.85,216.77 L76.64,214.35 L81.43,212.46 L86.22,211.12 L91.01,210.31 L95.80,209.99 L100.59,210.12 L105.38,210.67 L110.17,211.61 L114.96,212.88 L119.75,214.42 L124.54,216.18 L129.33,218.10 L134.12,220.13 L138.91,222.21 L143.70,224.29 L148.49,226.30 L153.28,228.20 L158.07,229.93 L162.86,231.43 L167.65,232.68 L172.44,233.71 L177.23,234.52 L182.02,235.14 L186.81,235.58 L191.60,235.87 L196.39,235.90 L201.18,235.90 L205.97,235.90 L210.76,235.77 L215.55,235.53 L220.34,235.24 L225.13,234.91 L229.92,234.56 L234.71,234.22 L239.50,233.89 L244.29,233.60 L249.08,233.37 L253.87,233.21 L258.66,233.14 L263.45,233.18 L268.24,233.34 L273.03,233.64 L277.82,234.11 L282.61,234.76 L287.40,235.60" stroke="#000080" stroke-width="1" fill="none"/>
<polygon points="45.70,235.90 49.50,233.70 49.50,238.10" fill="#000080"/><polygon points="50.49,231.23 54.29,229.03 54.29,233.43" fill="#000080"/><polygon points="55.28,226.95 59.08,224.75 59.08,229.15" fill="#000080"/><polygon points="60.07,223.10 63.87,220.90 63.87,225.30" fill="#000080"/><polygon points="64.86,219.69 68.66,217.49 68.66,221.89" fill="#000080"/><polygon points="69.65,216.77 73.45,214.57 73.45,218.97" fill="#000080"/><polygon points="74.44,214.35 78.24,212.15 78.24,216.55" fill="#000080"/><polygon points="79.23,212.46 83.03,210.26 83.03,214.66" fill="#000080"/><polygon points="84.02,211.12 87.82,208.92 87.82,213.32" fill="#000080"/><polygon points="88.81,210.31 92.61,208.11 92.61,212.51" fill="#000080"/><polygon points="93.60,209.99 97.40,207.79 97.40,212.19" fill="#000080"/><polygon points="98.39,210.12 102.19,207.92 102.19,212.32" fill="#000080"/><polygon points="103.18,210.67 106.98,208.47 106.98,212.87" fill="#000080"/><polygon points="107.97,211.61 111.77,209.41 111.77,213.81" fill="#000080"/><polygon points="112.76,212.88 116.56,210.68 116.56,215.08" fill="#000080"/><polygon points="117.55,214.42 121.35,212.22 121.35,216.62" fill="#000080"/><polygon points="122.34,216.18 126.14,213.98 126.14,218.38" fill="#000080"/><polygon points="127.13,218.10 130.93,215.90 130.93,220.30" fill="#000080"/><polygon points="131.92,220.13 135.72,217.93 135.72,222.33" fill="#000080"/><polygon points="136.71,222.21 140.51,220.01 140.51,224.41" fill="#000080"/><polygon points="141.50,224.29 145.30,222.09 145.30,226.49" fill="#000080"/><polygon points="146.29,226.30 150.09,224.10 150.09,228.50" fill="#000080"/><polygon points="151.08,228.20 154.88,226.00 154.88,230.40" fill="#000080"/><polygon points="155.87,229.93 159.67,227.73 159.67,232.13" fill="#000080"/><polygon points="160.66,231.43 164.46,229.23 164.46,233.63" fill="#000080"/><polygon points="165.45,232.68 169.25,230.48 169.25,234.88" fill="#000080"/><polygon points="170.24,233.71 174.04,231.51 174.04,235.91" fill="#000080"/><polygon points="175.03,234.52 178.83,232.32 178.83,236.72" fill="#000080"/><polygon points="179.82,235.14 183.62,232.94 183.62,237.34" fill="#000080"/><polygon points="184.61,235.58 188.41,233.38 188.41,237.78" fill="#000080"/><polygon points="189.40,235.87 193.20,233.67 193.20,238.07" fill="#000080"/><polygon points="194.19,235.90 197.99,233.70 197.99,238.10" fill="#000080"/><polygon points="198.98,235.90 202.78,233.70 202.78,238.10" fill="#000080"/><polygon points="203.77,235.90 207.57,233.70 207.57,238.10" fill="#000080"/><polygon points="208.56,235.77 212.36,233.57 212.36,237.97" fill="#000080"/><polygon points="213.35,235.53 217.15,233.33 217.15,237.73" fill="#000080"/><polygon points="218.14,235.24 221.94,233.04 221.94,237.44" fill="#000080"/><polygon points="222.93,234.91 226.73,232.71 226.73,237.11" fill="#000080"/><polygon points="227.72,234.56 231.52,232.36 231.52,236.76" fill="#000080"/><polygon points="232.51,234.22 236.31,232.02 236.31,236.42" fill="#000080"/><polygon points="237.30,233.89 241.10,231.69 241.10,236.09" fill="#000080"/><polygon points="242.09,233.60 245.89,231.40 245.89,235.80" fill="#000080"/><polygon points="246.88,233.37 250.68,231.17 250.68,235.57" fill="#000080"/><polygon points="251.67,233.21 255.47,231.01 255.47,235.41" fill="#000080"/><polygon points="256.46,233.14 260.26,230.94 260.26,235.34" fill="#000080"/><polygon points="261.25,233.18 265.05,230.98 265.05,235.38" fill="#000080"/><polygon points="266.04,233.34 269.84,231.14 269.84,235.54" fill="#000080"/><polygon points="270.83,233.64 274.63,231.44 274.63,235.84" fill="#000080"/><polygon points="275.62,234.11 279.42,231.91 279.42,236.31" fill="#000080"/><polygon points="280.41,234.76 284.21,232.56 284.21,236.96" fill="#000080"/><polygon points="285.20,235.60 289.00,233.40 289.00,237.80" fill="#000080"/>
<path d="M359.30,239.50 L364.45,195.98 L369.60,170.26 L374.75,147.87 L379.89,128.57 L385.04,112.18 L390.19,96.55 L395.34,80.32 L400.49,66.64 L405.64,55.98 L410.78,42.52 L415.93,32.55 L421.08,28.65 L426.23,27.28 L431.38,27.62 L436.53,29.56 L441.67,33.00 L446.82,37.84 L451.97,43.98 L457.12,51.28 L462.27,59.23 L467.42,66.96 L472.57,74.52 L477.71,83.23 L482.86,92.94 L488.01,102.61 L493.16,112.09 L498.31,121.27 L503.46,130.04 L508.60,138.29 L513.75,146.19 L518.90,154.40 L524.05,163.43 L529.20,172.01 L534.35,181.13 L539.49,186.98 L544.64,192.83 L549.79,198.56 L554.94,204.05 L560.09,209.19 L565.24,213.84 L570.39,217.90 L575.53,221.30 L580.68,224.15 L585.83,226.58 L590.98,228.71 L596.13,230.70 L601.28,232.66 L606.42,234.74" stroke="#000000" stroke-width="1" fill="none"/>
<circle cx="359.30" cy="239.50" r="1.57" fill="#000000"/><circle cx="364.45" cy="195.98" r="1.57" fill="#000000"/><circle cx="369.60" cy="170.26" r="1.57" fill="#000000"/><circle cx="374.75" cy="147.87" r="1.57" fill="#000000"/><circle cx="379.89" cy="128.57" r="1.57" fill="#000000"/><circle cx="385.04" cy="112.18" r="1.57" fill="#000000"/><circle cx="390.19" cy="96.55" r="1.57" fill="#000000"/><circle cx="395.34" cy="80.32" r="1.57" fill="#000000"/><circle cx="400.49" cy="66.64" r="1.57" fill="#000000"/><circle cx="405.64" cy="55.98" r="1.57" fill="#000000"/><circle cx="410.78" cy="42.52" r="1.57" fill="#000000"/><circle cx="415.93" cy="32.55" r="1.57" fill="#000000"/><circle cx="421.08" cy="28.65" r="1.57" fill="#000000"/><circle cx="426.23" cy="27.28" r="1.57" fill="#000000"/><circle cx="431.38" cy="27.62" r="1.57" fill="#000000"/><circle cx="436.53" cy="29.56" r="1.57" fill="#000000"/><circle cx="441.67" cy="33.00" r="1.57" fill="#000000"/><circle cx="446.82" cy="37.84" r="1.57" fill="#000000"/><circle cx="451.97" cy="43.98" r="1.57" fill="#000000"/><circle cx="457.12" cy="51.28" r="1.57" fill="#000000"/><circle cx="462.27" cy="59.23" r="1.57" fill="#000000"/><circle cx="467.42" cy="66.96" r="1.57" fill="#000000"/><circle cx="472.57" cy="74.52" r="1.57" fill="#000000"/><circle cx="477.71" cy="83.23" r="1.57" fill="#000000"/><circle cx="482.86" cy="92.94" r="1.57" fill="#000000"/><circle cx="488.01" cy="102.61" r="1.57" fill="#000000"/><circle cx="493.16" cy="112.09" r="1.57" fill="#000000"/><circle cx="498.31" cy="121.27" r="1.57" fill="#000000"/><circle cx="503.46" cy="130.04" r="1.57" fill="#000000"/><circle cx="508.60" cy="138.29" r="1.57" fill="#000000"/><circle cx="513.75" cy="146.19" r="1.57" fill="#000000"/><circle cx="518.90" cy="154.40" r="1.57" fill="#000000"/><circle cx="524.05" cy="163.43" r="1.57" fill="#000000"/><circle cx="529.20" cy="172.01" r="1.57" fill="#000000"/><circle cx="534.35" cy="181.13" r="1.57" fill="#000000"/><circle cx="539.49" cy="186.98" r="1.57" fill="#000000"/><circle cx="544.64" cy="192.83" r="1.57" fill="#000000"/><circle cx="549.79" cy="198.56" r="1.57" fill="#000000"/><circle cx="554.94" cy="204.05" r="1.57" fill="#000000"/><circle cx="560.09" cy="209.19" r="1.57" fill="#000000"/><circle cx="565.24" cy="213.84" r="1.57" fill="#000000"/><circle cx="570.39" cy="217.90" r="1.57" fill="#000000"/><circle cx="575.53" cy="221.30" r="1.57" fill="#000000"/><circle cx="580.68" cy="224.15" r="1.57" fill="#000000"/><circle cx="585.83" cy="226.58" r="1.57" fill="#000000"/><circle cx="590.98" cy="228.71" r="1.57" fill="#000000"/><circle cx="596.13" cy="230.70" r="1.57" fill="#000000"/><circle cx="601.28" cy="232.66" r="1.57" fill="#000000"/><circle cx="606.42" cy="234.74" r="1.57" fill="#000000"/>
<path d="M359.30,239.50 L364.29,209.42 L369.29,191.49 L374.28,172.55 L379.28,158.18 L384.27,143.26 L389.26,126.76 L394.26,103.92 L399.25,87.59 L404.25,71.49 L409.24,54.24 L414.23,41.84 L419.23,33.33 L424.22,28.46 L429.22,26.87 L434.21,28.21 L439.20,32.16 L444.20,38.38 L449.19,46.53 L454.19,56.27 L459.18,67.26 L464.17,79.17 L469.17,91.67 L474.16,104.41 L479.15,117.06 L484.15,129.35 L489.14,141.18 L494.14,152.49 L499.13,163.19 L504.12,173.21 L509.12,182.48 L514.11,190.94 L519.11,198.55 L524.10,205.60 L529.09,212.27 L534.09,217.50 L539.08,221.94 L544.08,226.35 L549.07,229.74 L554.06,232.95 L559.06,235.11 L564.05,236.05 L569.05,236.49 L574.04,236.64 L579.03,236.72 L584.03,236.73 L589.02,236.73 L594.02,236.73 L599.01,236.73 L604.00,236.73" stroke="#ff0000" stroke-width="1" fill="none"/>
<circle cx="359.30" cy="239.50" r="1.57" fill="#ff0000"/><circle cx="364.29" cy="209.42" r="1.57" fill="#ff0000"/><circle cx="369.29" cy="191.49" r="1.57" fill="#ff0000"/><circle cx="374.28" cy="172.55" r="1.57" fill="#ff0000"/><circle cx="379.28" cy="158.18" r="1.57" fill="#ff0000"/><circle cx="384.27" cy="143.26" r="1.57" fill="#ff0000"/><circle cx="389.26" cy="126.76" r="1.57" fill="#ff0000"/><circle cx="394.26" cy="103.92" r="1.57" fill="#ff0000"/><circle cx="399.25" cy="87.59" r="1.57" fill="#ff0000"/><circle cx="404.25" cy="71.49" r="1.57" fill="#ff0000"/><circle cx="409.24" cy="54.24" r="1.57" fill="#ff0000"/><circle cx="414.23" cy="41.84" r="1.57" fill="#ff0000"/><circle cx="419.23" cy="33.33" r="1.57" fill="#ff0000"/><circle cx="424.22" cy="28.46" r="1.57" fill="#ff0000"/><circle cx="429.22" cy="26.87" r="1.57" fill="#ff0000"/><circle cx="434.21" cy="28.21" r="1.57" fill="#ff0000"/><circle cx="439.20" cy="32.16" r="1.57" fill="#ff0000"/><circle cx="444.20" cy="38.38" r="1.57" fill="#ff0000"/><circle cx="449.19" cy="46.53" r="1.57" fill="#ff0000"/><circle cx="454.19" cy="56.27" r="1.57" fill="#ff0000"/><circle cx="459.18" cy="67.26" r="1.57" fill="#ff0000"/><circle cx="464.17" cy="79.17" r="1.57" fill="#ff0000"/><circle cx="469.17" cy="91.67" r="1.57" fill="#ff0000"/><circle cx="474.16" cy="104.41" r="1.57" fill="#ff0000"/><circle cx="479.15" cy="117.06" r="1.57" fill="#ff0000"/><circle cx="484.15" cy="129.35" r="1.57" fill="#ff0000"/><circle cx="489.14" cy="141.18" r="1.57" fill="#ff0000"/><circle cx="494.14" cy="152.49" r="1.57" fill="#ff0000"/><circle cx="499.13" cy="163.19" r="1.57" fill="#ff0000"/><circle cx="504.12" cy="173.21" r="1.57" fill="#ff0000"/><circle cx="509.12" cy="182.48" r="1.57" fill="#ff0000"/><circle cx="514.11" cy="190.94" r="1.57" fill="#ff0000"/><circle cx="519.11" cy="198.55" r="1.57" fill="#ff0000"/><circle cx="524.10" cy="205.60" r="1.57" fill="#ff0000"/><circle cx="529.09" cy="212.27" r="1.57" fill="#ff0000"/><circle cx="534.09" cy="217.50" r="1.57" fill="#ff0000"/><circle cx="539.08" cy="221.94" r="1.57" fill="#ff0000"/><circle cx="544.08" cy="226.35" r="1.57" fill="#ff0000"/><circle cx="549.07" cy="229.74" r="1.57" fill="#ff0000"/><circle cx="554.06" cy="232.95" r="1.57" fill="#ff0000"/><circle cx="559.06" cy="235.11" r="1.57" fill="#ff0000"/><circle cx="564.05" cy="236.05" r="1.57" fill="#ff0000"/><circle cx="569.05" cy="236.49" r="1.57" fill="#ff0000"/><circle cx="574.04" cy="236.64" r="1.57" fill="#ff0000"/><circle cx="579.03" cy="236.72" r="1.57" fill="#ff0000"/><circle cx="584.03" cy="236.73" r="1.57" fill="#ff0000"/><circle cx="589.02" cy="236.73" r="1.57" fill="#ff0000"/><circle cx="594.02" cy="236.73" r="1.57" fill="#ff0000"/><circle cx="599.01" cy="236.73" r="1.57" fill="#ff0000"/><circle cx="604.00" cy="236.73" r="1.57" fill="#ff0000"/>
<path d="M359.30,239.50 L364.29,221.11 L369.28,203.10 L374.27,185.46 L379.26,168.22 L384.25,151.38 L389.23,134.96 L394.22,118.97 L399.21,103.42 L404.20,88.33 L409.19,74.14 L414.18,61.54 L419.17,50.88 L424.16,42.19 L429.15,35.57 L434.14,30.92 L439.13,28.03 L444.11,26.83 L449.10,27.25 L454.09,29.23 L459.08,32.72 L464.07,37.63 L469.06,43.76 L474.05,50.90 L479.04,58.82 L484.03,67.31 L489.02,76.14 L494.01,85.11 L499.00,93.97 L503.98,102.74 L508.97,112.31 L513.96,122.83 L518.95,132.83 L523.94,141.56 L528.93,149.49 L533.92,157.53 L538.91,166.41 L543.90,175.32 L548.89,183.12 L553.88,189.46 L558.86,195.03 L563.85,200.40 L568.84,205.62 L573.83,210.55 L578.82,215.06 L583.81,219.07 L588.80,222.62 L593.79,225.77 L598.78,228.56 L603.77,231.03" stroke="#0000ff" stroke-width="1" fill="none"/>
<polygon points="359.30,237.57 357.38,240.90 361.23,240.90" fill="#0000ff"/><polygon points="364.29,219.19 362.36,222.51 366.21,222.51" fill="#0000ff"/><polygon points="369.28,201.17 367.35,204.50 371.20,204.50" fill="#0000ff"/><polygon points="374.27,183.54 372.34,186.86 376.19,186.86" fill="#0000ff"/><polygon points="379.26,166.30 377.33,169.62 381.18,169.62" fill="#0000ff"/><polygon points="384.25,149.46 382.32,152.78 386.17,152.78" fill="#0000ff"/><polygon points="389.23,133.04 387.31,136.36 391.16,136.36" fill="#0000ff"/><polygon points="394.22,117.05 392.30,120.37 396.15,120.37" fill="#0000ff"/><polygon points="399.21,101.49 397.29,104.82 401.14,104.82" fill="#0000ff"/><polygon points="404.20,86.41 402.28,89.73 406.13,89.73" fill="#0000ff"/><polygon points="409.19,72.21 407.27,75.54 411.12,75.54" fill="#0000ff"/><polygon points="414.18,59.62 412.26,62.94 416.11,62.94" fill="#0000ff"/><polygon points="419.17,48.95 417.24,52.28 421.09,52.28" fill="#0000ff"/><polygon points="424.16,40.26 422.23,43.59 426.08,43.59" fill="#0000ff"/><polygon points="429.15,33.64 427.22,36.97 431.07,36.97" fill="#0000ff"/><polygon points="434.14,28.99 432.21,32.32 436.06,32.32" fill="#0000ff"/><polygon points="439.13,26.11 437.20,29.43 441.05,29.43" fill="#0000ff"/><polygon points="444.11,24.90 442.19,28.23 446.04,28.23" fill="#0000ff"/><polygon points="449.10,25.32 447.18,28.65 451.03,28.65" fill="#0000ff"/><polygon points="454.09,27.30 452.17,30.63 456.02,30.63" fill="#0000ff"/><polygon points="459.08,30.79 457.16,34.12 461.01,34.12" fill="#0000ff"/><polygon points="464.07,35.70 462.15,39.03 466.00,39.03" fill="#0000ff"/><polygon points="469.06,41.84 467.14,45.16 470.99,45.16" fill="#0000ff"/><polygon points="474.05,48.97 472.12,52.30 475.97,52.30" fill="#0000ff"/><polygon points="479.04,56.89 477.11,60.22 480.96,60.22" fill="#0000ff"/><polygon points="484.03,65.38 482.10,68.71 485.95,68.71" fill="#0000ff"/><polygon points="489.02,74.22 487.09,77.54 490.94,77.54" fill="#0000ff"/><polygon points="494.01,83.18 492.08,86.51 495.93,86.51" fill="#0000ff"/><polygon points="499.00,92.04 497.07,95.37 500.92,95.37" fill="#0000ff"/><polygon points="503.98,100.82 502.06,104.14 505.91,104.14" fill="#0000ff"/><polygon points="508.97,110.39 507.05,113.71 510.90,113.71" fill="#0000ff"/><polygon points="513.96,120.90 512.04,124.23 515.89,124.23" fill="#0000ff"/><polygon points="518.95,130.90 517.03,134.23 520.88,134.23" fill="#0000ff"/><polygon points="523.94,139.64 522.02,142.96 525.87,142.96" fill="#0000ff"/><polygon points="528.93,147.57 527.00,150.89 530.85,150.89" fill="#0000ff"/><polygon points="533.92,155.61 531.99,158.93 535.84,158.93" fill="#0000ff"/><polygon points="538.91,164.49 536.98,167.81 540.83,167.81" fill="#0000ff"/><polygon points="543.90,173.40 541.97,176.72 545.82,176.72" fill="#0000ff"/><polygon points="548.89,181.20 546.96,184.52 550.81,184.52" fill="#0000ff"/><polygon points="553.88,187.54 551.95,190.86 555.80,190.86" fill="#0000ff"/><polygon points="558.86,193.10 556.94,196.43 560.79,196.43" fill="#0000ff"/><polygon points="563.85,198.48 561.93,201.80 565.78,201.80" fill="#0000ff"/><polygon points="568.84,203.69 566.92,207.02 570.77,207.02" fill="#0000ff"/><polygon points="573.83,208.63 571.91,211.95 575.76,211.95" fill="#0000ff"/><polygon points="578.82,213.13 576.90,216.46 580.75,216.46" fill="#0000ff"/><polygon points="583.81,217.14 581.88,220.47 585.73,220.47" fill="#0000ff"/><polygon points="588.80,220.70 586.87,224.02 590.72,224.02" fill="#0000ff"/><polygon points="593.79,223.84 591.86,227.17 595.71,227.17" fill="#0000ff"/><polygon points="598.78,226.63 596.85,229.96 600.70,229.96" fill="#0000ff"/><polygon points="603.77,229.11 601.84,232.43 605.69,232.43" fill="#0000ff"/>
<path d="M359.30,239.50 L364.28,221.61 L369.27,208.44 L374.25,197.64 L379.23,186.84 L384.21,174.41 L389.20,160.96 L394.18,147.56 L399.16,135.02 L404.15,123.19 L409.13,111.70 L414.11,100.28 L419.09,88.91 L424.08,77.62 L429.06,66.45 L434.04,55.79 L439.03,46.27 L444.01,38.53 L448.99,32.78 L453.98,28.93 L458.96,26.89 L463.94,26.55 L468.92,27.79 L473.91,30.52 L478.89,34.62 L483.87,39.98 L488.86,46.48 L493.84,53.98 L498.82,62.30 L503.80,71.31 L508.79,80.84 L513.77,90.73 L518.75,100.84 L523.74,111.05 L528.72,121.31 L533.70,131.60 L538.68,141.84 L543.67,151.79 L548.65,161.16 L553.63,169.77 L558.62,177.67 L563.60,184.96 L568.58,191.74 L573.57,198.11 L578.55,204.16 L583.53,209.95 L588.51,215.42 L593.50,220.55 L598.48,225.27 L603.46,229.56" stroke="#ff00ff" stroke-width="1" fill="none"/>
<polygon points="359.30,241.43 357.38,238.10 361.23,238.10" fill="#ff00ff"/><polygon points="364.28,223.53 362.36,220.21 366.21,220.21" fill="#ff00ff"/><polygon points="369.27,210.36 367.34,207.04 371.19,207.04" fill="#ff00ff"/><polygon points="374.25,199.56 372.32,196.24 376.17,196.24" fill="#ff00ff"/><polygon points="379.23,188.77 377.31,185.44 381.16,185.44" fill="#ff00ff"/><polygon points="384.21,176.34 382.29,173.01 386.14,173.01" fill="#ff00ff"/><polygon points="389.20,162.89 387.27,159.56 391.12,159.56" fill="#ff00ff"/><polygon points="394.18,149.49 392.26,146.16 396.11,146.16" fill="#ff00ff"/><polygon points="399.16,136.95 397.24,133.62 401.09,133.62" fill="#ff00ff"/><polygon points="404.15,125.11 402.22,121.79 406.07,121.79" fill="#ff00ff"/><polygon points="409.13,113.62 407.20,110.30 411.05,110.30" fill="#ff00ff"/><polygon points="414.11,102.21 412.19,98.88 416.04,98.88" fill="#ff00ff"/><polygon points="419.09,90.84 417.17,87.51 421.02,87.51" fill="#ff00ff"/><polygon points="424.08,79.54 422.15,76.22 426.00,76.22" fill="#ff00ff"/><polygon points="429.06,68.37 427.14,65.05 430.99,65.05" fill="#ff00ff"/><polygon points="434.04,57.71 432.12,54.39 435.97,54.39" fill="#ff00ff"/><polygon points="439.03,48.20 437.10,44.87 440.95,44.87" fill="#ff00ff"/><polygon points="444.01,40.46 442.08,37.13 445.93,37.13" fill="#ff00ff"/><polygon points="448.99,34.70 447.07,31.38 450.92,31.38" fill="#ff00ff"/><polygon points="453.98,30.86 452.05,27.53 455.90,27.53" fill="#ff00ff"/><polygon points="458.96,28.81 457.03,25.49 460.88,25.49" fill="#ff00ff"/><polygon points="463.94,28.47 462.02,25.15 465.87,25.15" fill="#ff00ff"/><polygon points="468.92,29.72 467.00,26.39 470.85,26.39" fill="#ff00ff"/><polygon points="473.91,32.45 471.98,29.12 475.83,29.12" fill="#ff00ff"/><polygon points="478.89,36.55 476.96,33.22 480.81,33.22" fill="#ff00ff"/><polygon points="483.87,41.91 481.95,38.58 485.80,38.58" fill="#ff00ff"/><polygon points="488.86,48.41 486.93,45.08 490.78,45.08" fill="#ff00ff"/><polygon points="493.84,55.90 491.91,52.58 495.76,52.58" fill="#ff00ff"/><polygon points="498.82,64.23 496.90,60.90 500.75,60.90" fill="#ff00ff"/><polygon points="503.80,73.23 501.88,69.91 505.73,69.91" fill="#ff00ff"/><polygon points="508.79,82.76 506.86,79.44 510.71,79.44" fill="#ff00ff"/><polygon points="513.77,92.66 511.85,89.33 515.70,89.33" fill="#ff00ff"/><polygon points="518.75,102.77 516.83,99.44 520.68,99.44" fill="#ff00ff"/><polygon points="523.74,112.97 521.81,109.65 525.66,109.65" fill="#ff00ff"/><polygon points="528.72,123.24 526.79,119.91 530.64,119.91" fill="#ff00ff"/><polygon points="533.70,133.52 531.78,130.20 535.63,130.20" fill="#ff00ff"/><polygon points="538.68,143.76 536.76,140.44 540.61,140.44" fill="#ff00ff"/><polygon points="543.67,153.71 541.74,150.39 545.59,150.39" fill="#ff00ff"/><polygon points="548.65,163.08 546.73,159.76 550.58,159.76" fill="#ff00ff"/><polygon points="553.63,171.69 551.71,168.37 555.56,168.37" fill="#ff00ff"/><polygon points="558.62,179.59 556.69,176.27 560.54,176.27" fill="#ff00ff"/><polygon points="563.60,186.89 561.67,183.56 565.52,183.56" fill="#ff00ff"/><polygon points="568.58,193.67 566.66,190.34 570.51,190.34" fill="#ff00ff"/><polygon points="573.57,200.04 571.64,196.71 575.49,196.71" fill="#ff00ff"/><polygon points="578.55,206.09 576.62,202.76 580.47,202.76" fill="#ff00ff"/><polygon points="583.53,211.87 581.61,208.55 585.46,208.55" fill="#ff00ff"/><polygon points="588.51,217.35 586.59,214.02 590.44,214.02" fill="#ff00ff"/><polygon points="593.50,222.47 591.57,219.15 595.42,219.15" fill="#ff00ff"/><polygon points="598.48,227.20 596.55,223.87 600.40,223.87" fill="#ff00ff"/><polygon points="603.46,231.48 601.54,228.16 605.39,228.16" fill="#ff00ff"/>
<path d="M359.30,239.50 L366.49,213.88 L373.68,188.39 L380.87,163.29 L388.06,138.84 L395.25,115.29 L402.44,92.91 L409.63,72.22 L416.82,54.19 L424.01,39.89 L431.20,30.34 L438.39,26.14 L445.58,26.73 L452.77,31.36 L459.96,39.31 L467.15,49.82 L474.34,62.15 L481.53,75.57 L488.72,89.35 L495.91,103.22 L503.10,117.45 L510.29,132.32 L517.48,146.44 L524.67,157.42 L531.86,171.24 L539.05,182.33 L546.24,190.14 L553.43,197.81 L560.62,205.19 L567.81,212.10 L575.00,218.38 L582.19,223.86 L589.38,228.36 L596.57,231.72 L603.76,233.77" stroke="#008000" stroke-width="1" fill="none"/>
<polygon points="359.30,237.57 361.23,239.50 359.30,241.43 357.38,239.50" fill="#008000"/><polygon points="366.49,211.96 368.41,213.88 366.49,215.81 364.56,213.88" fill="#008000"/><polygon points="373.68,186.47 375.60,188.39 373.68,190.32 371.75,188.39" fill="#008000"/><polygon points="380.87,161.37 382.79,163.29 380.87,165.22 378.94,163.29" fill="#008000"/><polygon points="388.06,136.91 389.98,138.84 388.06,140.76 386.13,138.84" fill="#008000"/><polygon points="395.25,113.36 397.17,115.29 395.25,117.21 393.32,115.29" fill="#008000"/><polygon points="402.44,90.99 404.36,92.91 402.44,94.84 400.51,92.91" fill="#008000"/><polygon points="409.63,70.29 411.55,72.22 409.63,74.14 407.70,72.22" fill="#008000"/><polygon points="416.82,52.27 418.74,54.19 416.82,56.12 414.89,54.19" fill="#008000"/><polygon points="424.01,37.96 425.93,39.89 424.01,41.81 422.08,39.89" fill="#008000"/><polygon points="431.20,28.41 433.12,30.34 431.20,32.26 429.27,30.34" fill="#008000"/><polygon points="438.39,24.21 440.31,26.14 438.39,28.06 436.46,26.14" fill="#008000"/><polygon points="445.58,24.80 447.50,26.73 445.58,28.65 443.65,26.73" fill="#008000"/><polygon points="452.77,29.44 454.69,31.36 452.77,33.29 450.84,31.36" fill="#008000"/><polygon points="459.96,37.38 461.88,39.31 459.96,41.23 458.03,39.31" fill="#008000"/><polygon points="467.15,47.89 469.07,49.82 467.15,51.74 465.22,49.82" fill="#008000"/><polygon points="474.34,60.23 476.26,62.15 474.34,64.08 472.41,62.15" fill="#008000"/><polygon points="481.53,73.65 483.45,75.57 481.53,77.50 479.60,75.57" fill="#008000"/><polygon points="488.72,87.43 490.64,89.35 488.72,91.28 486.79,89.35" fill="#008000"/><polygon points="495.91,101.30 497.83,103.22 495.91,105.15 493.98,103.22" fill="#008000"/><polygon points="503.10,115.52 505.02,117.45 503.10,119.37 501.17,117.45" fill="#008000"/><polygon points="510.29,130.40 512.21,132.32 510.29,134.25 508.36,132.32" fill="#008000"/><polygon points="517.48,144.51 519.40,146.44 517.48,148.36 515.55,146.44" fill="#008000"/><polygon points="524.67,155.50 526.59,157.42 524.67,159.35 522.74,157.42" fill="#008000"/><polygon points="531.86,169.32 533.78,171.24 531.86,173.17 529.93,171.24" fill="#008000"/><polygon points="539.05,180.41 540.97,182.33 539.05,184.26 537.12,182.33" fill="#008000"/><polygon points="546.24,188.21 548.16,190.14 546.24,192.06 544.31,190.14" fill="#008000"/><polygon points="553.43,195.89 555.35,197.81 553.43,199.74 551.50,197.81" fill="#008000"/><polygon points="560.62,203.27 562.54,205.19 560.62,207.12 558.69,205.19" fill="#008000"/><polygon points="567.81,210.18 569.73,212.10 567.81,214.03 565.88,212.10" fill="#008000"/><polygon points="575.00,216.46 576.92,218.38 575.00,220.31 573.07,218.38" fill="#008000"/><polygon points="582.19,221.93 584.11,223.86 582.19,225.78 580.26,223.86" fill="#008000"/><polygon points="589.38,226.43 591.30,228.36 589.38,230.28 587.45,228.36" fill="#008000"/><polygon points="596.57,229.79 598.49,231.72 596.57,233.64 594.64,231.72" fill="#008000"/><polygon points="603.76,231.85 605.68,233.77 603.76,235.70 601.83,233.77" fill="#008000"/>
<path d="M359.30,239.50 L367.56,204.00 L375.83,173.74 L384.09,147.17 L392.35,122.76 L400.61,99.07 L408.88,76.25 L417.14,56.11 L425.40,40.49 L433.66,30.92 L441.93,27.19 L450.19,28.54 L458.45,34.21 L466.71,43.43 L474.98,55.44 L483.24,69.47 L491.50,84.67 L499.76,99.78 L508.03,115.92 L516.29,132.71 L524.55,147.73 L532.81,158.34 L541.08,175.28 L549.34,188.24 L557.60,197.44 L565.86,204.87 L574.13,212.55 L582.39,221.74 L590.65,230.36 L598.91,235.28" stroke="#000080" stroke-width="1" fill="none"/>
<polygon points="357.38,239.50 360.70,237.57 360.70,241.43" fill="#000080"/><polygon points="365.64,204.00 368.96,202.08 368.96,205.93" fill="#000080"/><polygon points="373.90,173.74 377.23,171.81 377.23,175.66" fill="#000080"/><polygon points="382.16,147.17 385.49,145.24 385.49,149.09" fill="#000080"/><polygon points="390.43,122.76 393.75,120.84 393.75,124.69" fill="#000080"/><polygon points="398.69,99.07 402.01,97.14 402.01,100.99" fill="#000080"/><polygon points="406.95,76.25 410.28,74.33 410.28,78.18" fill="#000080"/><polygon points="415.21,56.11 418.54,54.18 418.54,58.03" fill="#000080"/><polygon points="423.48,40.49 426.80,38.57 426.80,42.42" fill="#000080"/><polygon points="431.74,30.92 435.06,28.99 435.06,32.84" fill="#000080"/><polygon points="440.00,27.19 443.33,25.26 443.33,29.11" fill="#000080"/><polygon points="448.26,28.54 451.59,26.61 451.59,30.46" fill="#000080"/><polygon points="456.53,34.21 459.85,32.28 459.85,36.13" fill="#000080"/><polygon points="464.79,43.43 468.11,41.50 468.11,45.35" fill="#000080"/><polygon points="473.05,55.44 476.38,53.51 476.38,57.36" fill="#000080"/><polygon points="481.31,69.47 484.64,67.55 484.64,71.40" fill="#000080"/><polygon points="489.58,84.67 492.90,82.75 492.90,86.60" fill="#000080"/><polygon points="497.84,99.78 501.16,97.86 501.16,101.71" fill="#000080"/><polygon points="506.10,115.92 509.43,114.00 509.43,117.85" fill="#000080"/><polygon points="514.36,132.71 517.69,130.79 517.69,134.64" fill="#000080"/><polygon points="522.63,147.73 525.95,145.81 525.95,149.66" fill="#000080"/><polygon points="530.89,158.34 534.21,156.41 534.21,160.26" fill="#000080"/><polygon points="539.15,175.28 542.48,173.36 542.48,177.21" fill="#000080"/><polygon points="547.41,188.24 550.74,186.31 550.74,190.16" fill="#000080"/><polygon points="555.68,197.44 559.00,195.51 559.00,199.36" fill="#000080"/><polygon points="563.94,204.87 567.26,202.95 567.26,206.80" fill="#000080"/><polygon points="572.20,212.55 575.53,210.62 575.53,214.47" fill="#000080"/><polygon points="580.46,221.74 583.79,219.82 583.79,223.67" fill="#000080"/><polygon points="588.73,230.36 592.05,228.44 592.05,232.29" fill="#000080"/><polygon points="596.99,235.28 600.31,233.36 600.31,237.21" fill="#000080"/>
</svg></body></html>
